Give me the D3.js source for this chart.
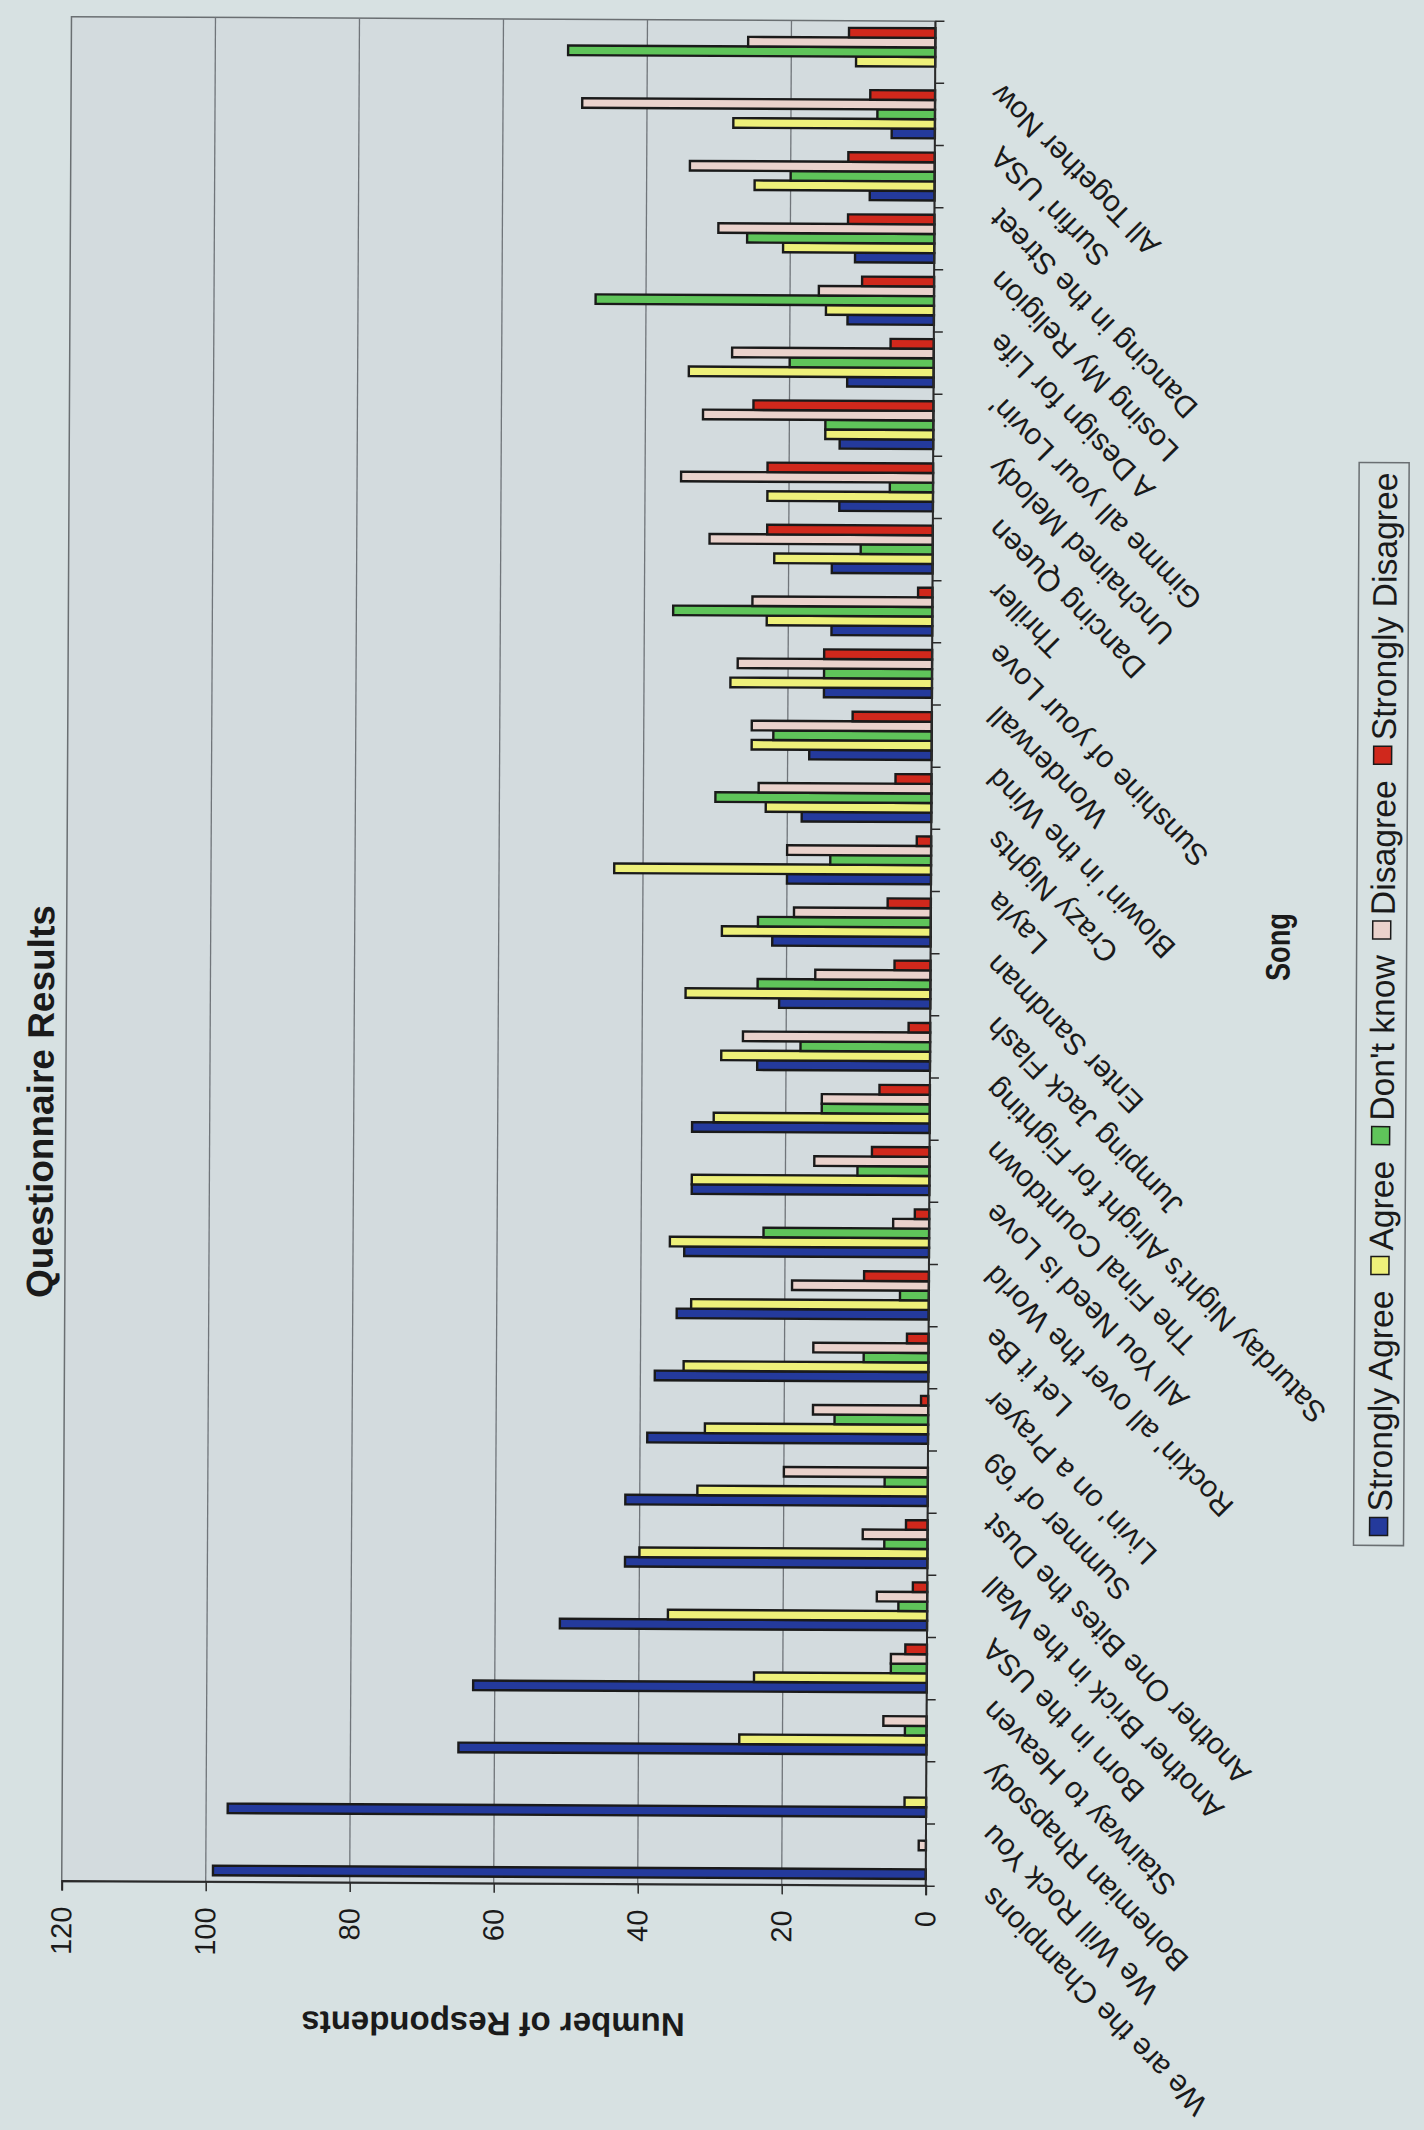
<!DOCTYPE html>
<html>
<head>
<meta charset="utf-8">
<script src="https://cdn.jsdelivr.net/npm/d3@7"></script>
<style>
    html, body { margin: 0; padding: 0; background: #d7e1e2; }
    svg { display: block; }
    text { font-family: "Liberation Sans", Arial, sans-serif; fill: #1a1a1a; }
</style>
</head>
<body>
<svg id="chart" width="1424" height="2130"></svg>
<script>
// Song categories, left to right in the original (bottom to top in the photo)
const songs = [
    "We are the Champions", "We Will Rock You", "Bohemian Rhapsody", "Stairway to Heaven",
    "Born in the USA", "Another Brick in the Wall", "Another One Bites the Dust", "Summer of '69",
    "Livin' on a Prayer", "Let it Be", "Rockin' all over the World", "All You Need is Love",
    "The Final Countdown", "Saturday Night's Alright for Fighting", "Jumping Jack Flash",
    "Enter Sandman", "Layla", "Crazy Nights", "Blowin' in the Wind", "Wonderwall",
    "Sunshine of your Love", "Thriller", "Dancing Queen", "Unchained Melody",
    "Gimme all your Lovin'", "A Design for Life", "Losing My Religion", "Dancing in the Street",
    "Surfin' USA", "All Together Now"
];

const seriesNames = ["Strongly Agree", "Agree", "Don't know", "Disagree", "Strongly Disagree"];
const seriesColors = ["#243a9c", "#eef07a", "#5fc45a", "#ead2cc", "#d0281c"];

const stronglyAgree    = [99, 97, 65, 63, 51, 42, 42, 39, 38, 35, 34, 33, 33, 24, 21, 22, 20, 18, 17, 15, 14, 14, 13, 13, 12, 12, 11, 9, 6, 0];
const agree            = [0, 3, 26, 24, 36, 40, 32, 31, 34, 33, 36, 33, 30, 29, 34, 29, 44, 23, 25, 28, 23, 22, 23, 15, 34, 15, 21, 25, 28, 11];
const dontKnow         = [0, 0, 3, 5, 4, 6, 6, 13, 9, 4, 23, 10, 15, 18, 24, 24, 14, 30, 22, 15, 36, 10, 6, 15, 20, 47, 26, 20, 8, 51];
const disagree         = [1, 0, 6, 5, 7, 9, 20, 16, 16, 19, 5, 16, 15, 26, 16, 19, 20, 24, 25, 27, 25, 31, 35, 32, 28, 16, 30, 34, 49, 26];
const stronglyDisagree = [0, 0, 0, 3, 2, 3, 0, 1, 3, 9, 2, 8, 7, 3, 5, 6, 2, 5, 11, 15, 2, 23, 23, 25, 6, 10, 12, 12, 9, 12];

const valueTicks = [0, 20, 40, 60, 80, 100, 120];

// The photo shows the chart turned a quarter turn anticlockwise,
// so the chart is drawn upright in a 2130 x 1424 frame and then rotated.
const frameW = 2130;
const plot = { left: 245, right: 2110, top: 66, bottom: 930 };

const svg = d3.select('#chart');

const root = svg.append('g')
    .attr('transform', `rotate(0.3 712 1065) translate(0,${frameW}) rotate(-90)`);

const seriesValues = [stronglyAgree, agree, dontKnow, disagree, stronglyDisagree];
const rows = songs.map((song, i) => ({
    song,
    values: seriesNames.map((name, s) => ({ name, value: seriesValues[s][i], color: seriesColors[s] }))
}));

// Scales
const x0 = d3.scaleBand()
    .domain(songs)
    .range([plot.left, plot.right])
    .paddingInner(0.23)
    .paddingOuter(0.115);

const x1 = d3.scaleBand()
    .domain(seriesNames)
    .range([0, x0.bandwidth()]);

const y = d3.scaleLinear()
    .domain([0, 120])
    .range([plot.bottom, plot.top]);

// Plot area
root.append('rect')
    .attr('x', plot.left)
    .attr('y', plot.top)
    .attr('width', plot.right - plot.left)
    .attr('height', plot.bottom - plot.top)
    .attr('fill', '#d3dbde')
    .attr('stroke', '#6a6f72')
    .attr('stroke-width', 1.5);

// Gridlines
root.append('g')
    .selectAll('line')
    .data(valueTicks.filter(v => v > 0 && v < 120))
    .join('line')
    .attr('x1', plot.left)
    .attr('x2', plot.right)
    .attr('y1', d => y(d))
    .attr('y2', d => y(d))
    .attr('stroke', '#70757a')
    .attr('stroke-width', 1.3);

// Bars
const groups = root.append('g')
    .selectAll('g')
    .data(rows)
    .join('g')
    .attr('transform', d => `translate(${x0(d.song)},0)`);

groups.selectAll('rect')
    .data(d => d.values.filter(v => v.value > 0))
    .join('rect')
    .attr('x', d => x1(d.name))
    .attr('y', d => y(d.value))
    .attr('width', x1.bandwidth())
    .attr('height', d => y(0) - y(d.value))
    .attr('fill', d => d.color)
    .attr('stroke', '#1a1a1a')
    .attr('stroke-width', 2.4);

// Value axis (left in the upright chart)
const yAxis = root.append('g')
    .attr('transform', `translate(${plot.left},0)`)
    .call(d3.axisLeft(y).tickValues(valueTicks).tickSize(9).tickPadding(16));

yAxis.select('.domain').attr('stroke', '#2a2a2a').attr('stroke-width', 2);
yAxis.selectAll('.tick line').attr('stroke', '#2a2a2a').attr('stroke-width', 1.5);
yAxis.selectAll('.tick text')
    .attr('font-size', 29)
    .attr('font-family', '"Liberation Sans", Arial, sans-serif')
    .attr('fill', '#1a1a1a');

// Category axis (bottom in the upright chart)
root.append('line')
    .attr('x1', plot.left)
    .attr('x2', plot.right)
    .attr('y1', plot.bottom)
    .attr('y2', plot.bottom)
    .attr('stroke', '#2a2a2a')
    .attr('stroke-width', 2);

const boundaries = songs.map(s => x0(s) - x0.step() * x0.paddingOuter()).concat([plot.right]);
root.append('g')
    .selectAll('line')
    .data(boundaries)
    .join('line')
    .attr('x1', d => d)
    .attr('x2', d => d)
    .attr('y1', plot.bottom)
    .attr('y2', plot.bottom + 9)
    .attr('stroke', '#2a2a2a')
    .attr('stroke-width', 1.5);

// Slanted song labels
root.append('g')
    .selectAll('text')
    .data(songs)
    .join('text')
    .attr('transform', d => `translate(${x0(d) + x0.bandwidth() / 2 - 30},${plot.bottom + 68}) rotate(-45)`)
    .attr('text-anchor', 'end')
    .attr('font-size', 30)
    .text(d => d);

// Titles
root.append('text')
    .attr('x', 1025)
    .attr('y', 41)
    .attr('text-anchor', 'middle')
    .attr('dominant-baseline', 'central')
    .attr('font-size', 37)
    .attr('font-weight', 'bold')
    .text('Questionnaire Results');

root.append('text')
    .attr('transform', `translate(105,${(plot.top + plot.bottom) / 2}) rotate(-90)`)
    .attr('text-anchor', 'middle')
    .attr('dominant-baseline', 'central')
    .attr('font-size', 33)
    .attr('font-weight', 'bold')
    .text('Number of Respondents');

const songTitle = root.append('text')
    .attr('x', 1186)
    .attr('y', 1277)
    .attr('text-anchor', 'middle')
    .attr('dominant-baseline', 'central')
    .attr('font-size', 34)
    .attr('font-weight', 'bold')
    .text('Song');
songTitle
    .attr('textLength', songTitle.node().getComputedTextLength() * 0.8)
    .attr('lengthAdjust', 'spacingAndGlyphs');

// Legend
const legendBox = { x: 588, y: 1356, w: 1083, h: 50 };
const legend = root.append('g');

legend.append('rect')
    .attr('x', legendBox.x)
    .attr('y', legendBox.y)
    .attr('width', legendBox.w)
    .attr('height', legendBox.h)
    .attr('fill', '#d7e1e2')
    .attr('stroke', '#6a6f72')
    .attr('stroke-width', 1.5);

const markSize = 18, markGap = 6, itemGap = 16, pad = 10;
const labels = legend.selectAll('text')
    .data(seriesNames)
    .join('text')
    .attr('font-size', 34)
    .attr('dominant-baseline', 'central')
    .text(d => d);

const natural = [];
labels.each(function() { natural.push(this.getComputedTextLength()); });
const room = legendBox.w - 2 * pad - seriesNames.length * (markSize + markGap) - (seriesNames.length - 1) * itemGap;
const squeeze = room / d3.sum(natural);

let cursor = legendBox.x + pad;
const cy = legendBox.y + legendBox.h / 2;
seriesNames.forEach((name, i) => {
    legend.append('rect')
        .attr('x', cursor)
        .attr('y', cy - markSize / 2)
        .attr('width', markSize)
        .attr('height', markSize)
        .attr('fill', seriesColors[i])
        .attr('stroke', '#1a1a1a')
        .attr('stroke-width', 1.5);
    cursor += markSize + markGap;
    const w = natural[i] * squeeze;
    d3.select(labels.nodes()[i])
        .attr('x', cursor)
        .attr('y', cy + 1)
        .attr('textLength', w)
        .attr('lengthAdjust', 'spacingAndGlyphs');
    cursor += w + itemGap;
});
</script>
</body>
</html>
